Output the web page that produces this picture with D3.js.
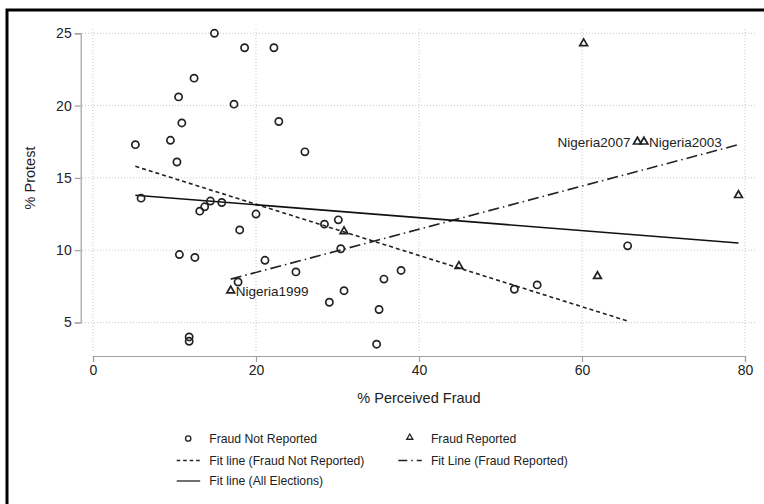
<!DOCTYPE html>
<html>
<head>
<meta charset="utf-8">
<script src="https://cdn.jsdelivr.net/npm/d3@7"></script>
<style>
  body { margin: 0; background: #fff; }
  svg { font-family: "Liberation Sans", Arial, sans-serif; }
</style>
</head>
<body>
<svg width="764" height="504"></svg>
<script>
// elections where fraud was not reported: [perceived fraud, protest]
const fraudNotReported = [
  [14.9, 25.0], [18.6, 24.0], [22.2, 24.0], [12.4, 21.9], [10.5, 20.6], [17.3, 20.1],
  [10.9, 18.8], [22.8, 18.9], [9.5, 17.6], [5.2, 17.3], [26.0, 16.8], [10.3, 16.1],
  [5.9, 13.6], [13.1, 12.7], [13.7, 13.0], [14.4, 13.4], [15.8, 13.3], [18.0, 11.4],
  [20.0, 12.5], [10.6, 9.7], [12.5, 9.5], [11.8, 4.0], [11.8, 3.7], [17.8, 7.8],
  [21.1, 9.3], [24.9, 8.5], [28.4, 11.8], [30.1, 12.1], [30.4, 10.1], [30.8, 7.2],
  [29.0, 6.4], [35.7, 8.0], [37.8, 8.6], [35.1, 5.9], [34.8, 3.5], [51.7, 7.3],
  [54.5, 7.6], [65.6, 10.3]
];

// elections where fraud was reported
const fraudReported = [
  [16.9, 7.2], [30.8, 11.3], [44.9, 8.9], [61.9, 8.2], [60.2, 24.3],
  [66.8, 17.5], [67.6, 17.5], [79.2, 13.8]
];
const reportedLabels = ["Nigeria1999", "", "", "", "", "Nigeria2007", "Nigeria2003", ""];
const labelSide = ["right", "", "", "", "", "left", "right", ""];

// fitted lines, end points
const fitNotReported = [[5.2, 15.8], [65.6, 5.1]];
const fitReported = [[16.9, 8.0], [79.2, 17.3]];
const fitAll = [[5.2, 13.8], [79.2, 10.5]];

const xTicks = [0, 20, 40, 60, 80];
const yTicks = [5, 10, 15, 20, 25];

const svg = d3.select("svg");

// outer frame (runs off the bottom/right like the original)
svg.append("rect")
   .attr("x", 7).attr("y", 10)
   .attr("width", 820).attr("height", 600)
   .attr("fill", "none")
   .attr("stroke", "#000")
   .attr("stroke-width", 3);

const x = d3.scaleLinear().domain([0, 80]).range([93, 745]);
const y = d3.scaleLinear().domain([5, 25]).range([322.5, 33.3]);

const plot = {left: 82, right: 756, top: 29, bottom: 352};

// grid
const grid = svg.append("g")
   .attr("stroke", "#c8c8c8")
   .attr("stroke-width", 1)
   .attr("stroke-dasharray", "1,2");

grid.selectAll("line.h")
   .data(yTicks)
   .join("line")
   .attr("x1", plot.left).attr("x2", plot.right)
   .attr("y1", d => y(d)).attr("y2", d => y(d));

grid.selectAll("line.v")
   .data(xTicks)
   .join("line")
   .attr("y1", plot.top).attr("y2", plot.bottom)
   .attr("x1", d => x(d)).attr("x2", d => x(d));

// axes
const yAxis = svg.append("g")
   .attr("transform", "translate(80.7,0)")
   .call(d3.axisLeft(y).tickValues(yTicks).tickSize(6).tickPadding(3));

const xAxis = svg.append("g")
   .attr("transform", "translate(0,356)")
   .call(d3.axisBottom(x).tickValues(xTicks).tickSize(6).tickPadding(3));

[xAxis, yAxis].forEach(g => {
  g.selectAll("path, line").attr("stroke", "#a0a0a0").attr("stroke-width", 1.2);
  g.selectAll("text").attr("fill", "#222").style("font-size", "14px");
});

svg.append("text")
   .attr("x", 419).attr("y", 403)
   .attr("text-anchor", "middle")
   .style("font-size", "14.5px")
   .attr("fill", "#222")
   .text("% Perceived Fraud");

svg.append("text")
   .attr("transform", "translate(35,178) rotate(-90)")
   .attr("text-anchor", "middle")
   .style("font-size", "14.5px")
   .attr("fill", "#222")
   .text("% Protest");

// fit lines
const line = d3.line().x(d => x(d[0])).y(d => y(d[1]));

svg.append("path")
   .datum(fitNotReported)
   .attr("d", line)
   .attr("fill", "none")
   .attr("stroke", "#222")
   .attr("stroke-width", 1.6)
   .attr("stroke-dasharray", "4,3");

svg.append("path")
   .datum(fitReported)
   .attr("d", line)
   .attr("fill", "none")
   .attr("stroke", "#222")
   .attr("stroke-width", 1.6)
   .attr("stroke-dasharray", "11,4,1.5,4");

svg.append("path")
   .datum(fitAll)
   .attr("d", line)
   .attr("fill", "none")
   .attr("stroke", "#111")
   .attr("stroke-width", 1.6);

// markers
svg.append("g")
   .selectAll("circle")
   .data(fraudNotReported)
   .join("circle")
   .attr("cx", d => x(d[0]))
   .attr("cy", d => y(d[1]))
   .attr("r", 3.6)
   .attr("fill", "none")
   .attr("stroke", "#222")
   .attr("stroke-width", 1.7);

const tri = d3.symbol().type(d3.symbolTriangle).size(26);

svg.append("g")
   .selectAll("path")
   .data(fraudReported)
   .join("path")
   .attr("transform", d => `translate(${x(d[0])},${y(d[1])})`)
   .attr("d", tri)
   .attr("fill", "none")
   .attr("stroke", "#222")
   .attr("stroke-width", 1.7);

svg.append("g")
   .selectAll("text")
   .data(fraudReported.map((d, i) => ({p: d, label: reportedLabels[i], side: labelSide[i]}))
                      .filter(d => d.label))
   .join("text")
   .attr("x", d => x(d.p[0]) + (d.side === "left" ? -7 : 5))
   .attr("y", d => y(d.p[1]) + 5.5)
   .attr("text-anchor", d => d.side === "left" ? "end" : "start")
   .style("font-size", "13.5px")
   .attr("fill", "#222")
   .text(d => d.label);

// legend
const legendItems = [
  {col: 0, row: 0, kind: "circle", text: "Fraud Not Reported"},
  {col: 1, row: 0, kind: "triangle", text: "Fraud Reported"},
  {col: 0, row: 1, kind: "dash", text: "Fit line (Fraud Not Reported)"},
  {col: 1, row: 1, kind: "dashdot", text: "Fit Line (Fraud Reported)"},
  {col: 0, row: 2, kind: "solid", text: "Fit line (All Elections)"}
];
const colX = [176.7, 398.3];
const rowY = [438.5, 460.5, 481];

const legend = svg.append("g");
legendItems.forEach(d => {
  const lx = colX[d.col], ly = rowY[d.row];
  const g = legend.append("g");
  if (d.kind === "circle") {
    g.append("circle").attr("cx", lx + 11.5).attr("cy", ly).attr("r", 2.7)
     .attr("fill", "none").attr("stroke", "#222").attr("stroke-width", 1.3);
  } else if (d.kind === "triangle") {
    g.append("path").attr("transform", `translate(${lx + 11.5},${ly - 1})`)
     .attr("d", d3.symbol().type(d3.symbolTriangle).size(16))
     .attr("fill", "none").attr("stroke", "#222").attr("stroke-width", 1.3);
  } else {
    const dash = d.kind === "dash" ? "3.5,3" : d.kind === "dashdot" ? "9,4,1.5,4" : null;
    g.append("line").attr("x1", lx).attr("x2", lx + 23.5).attr("y1", ly).attr("y2", ly)
     .attr("stroke", "#222").attr("stroke-width", 1.3)
     .attr("stroke-dasharray", dash);
  }
  g.append("text")
   .attr("x", lx + 32.6).attr("y", ly + 4.3)
   .style("font-size", "12.2px")
   .attr("fill", "#222")
   .text(d.text);
});
</script>
</body>
</html>
